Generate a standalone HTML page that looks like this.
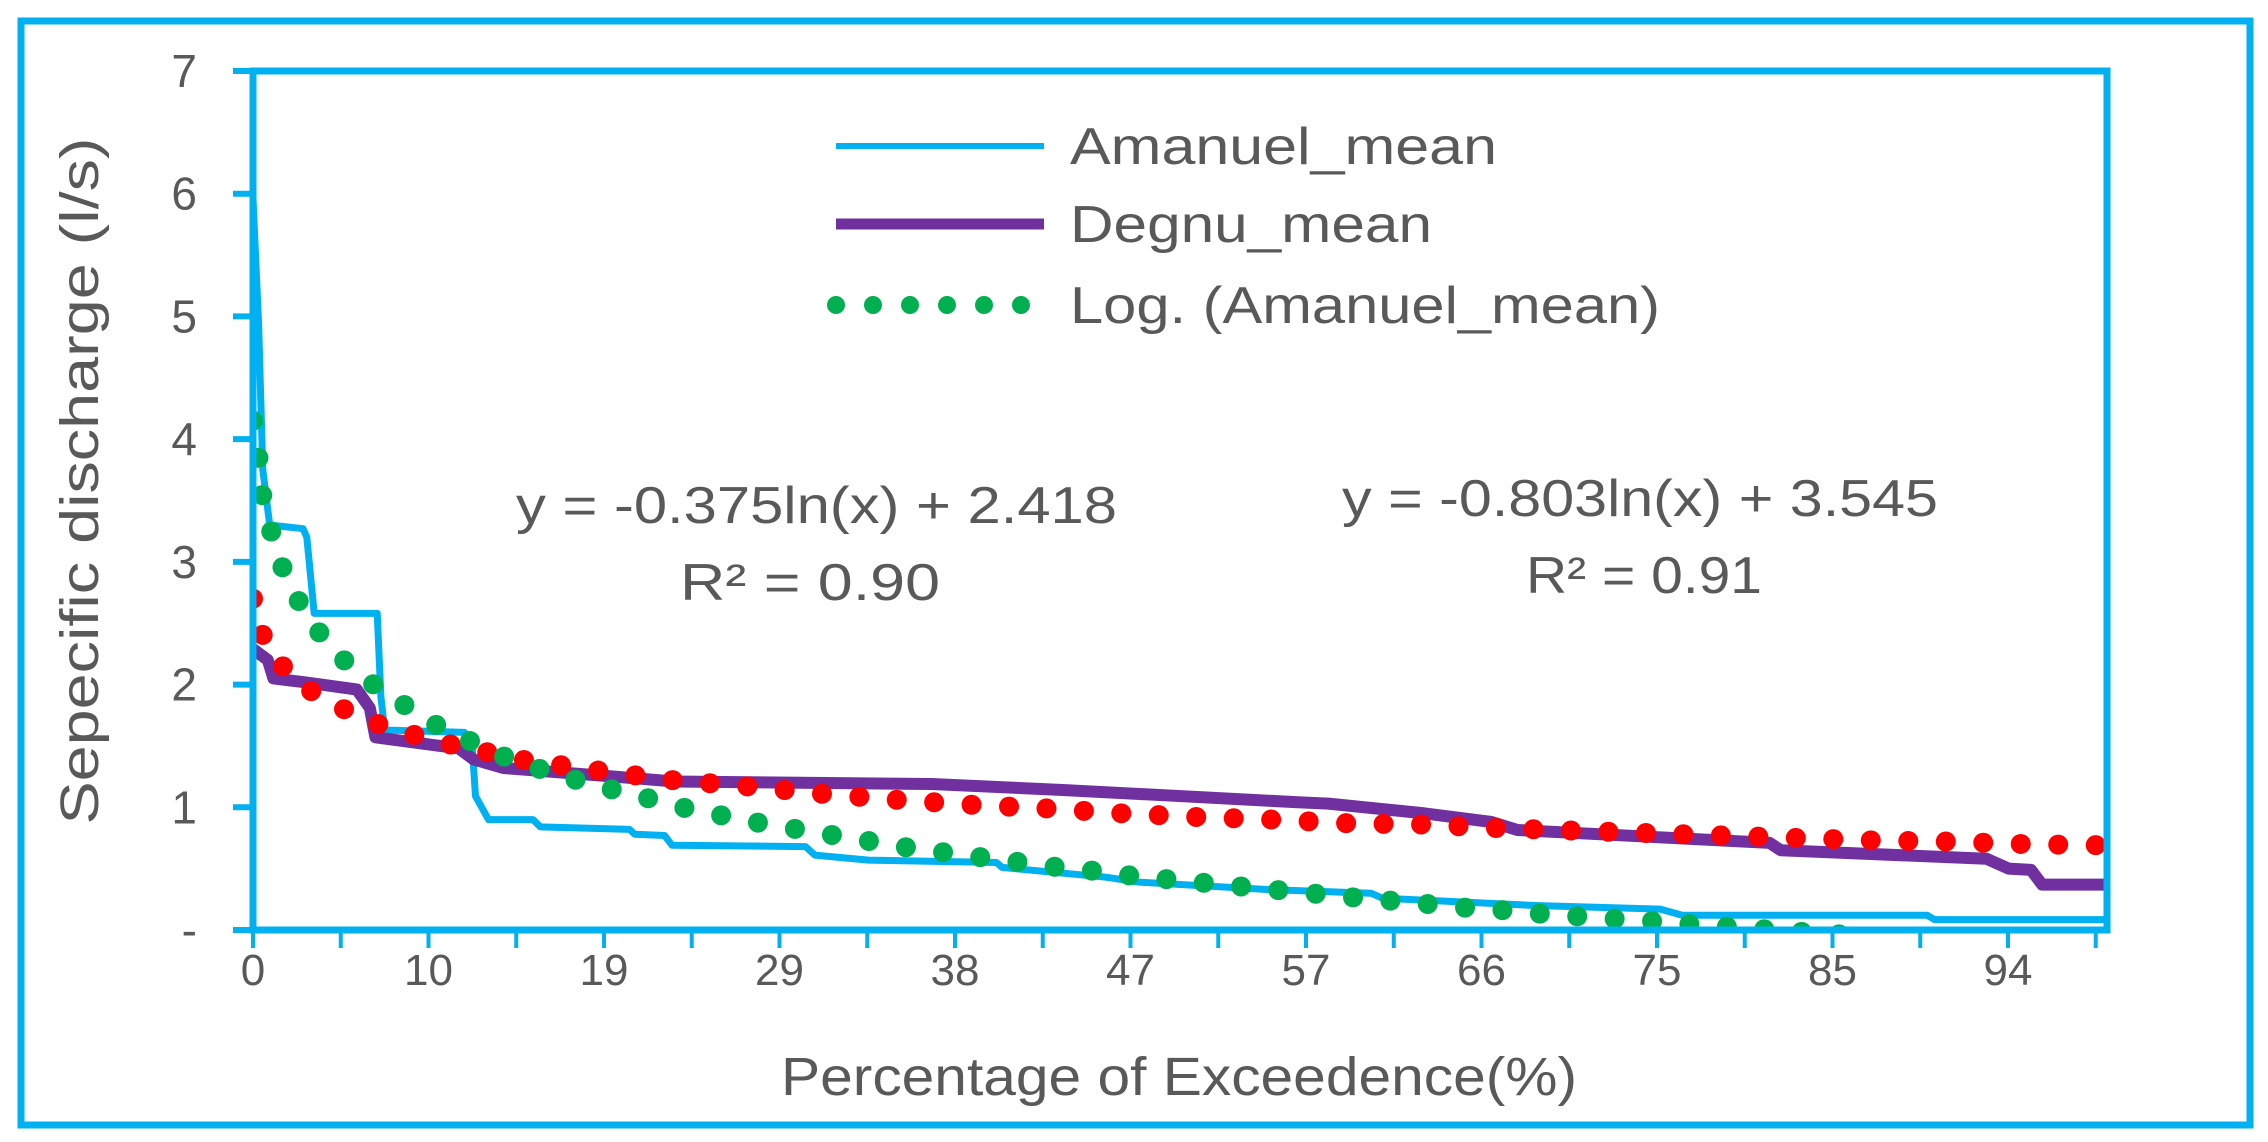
<!DOCTYPE html>
<html><head><meta charset="utf-8"><style>
html,body{margin:0;padding:0;background:#fff}
svg{display:block;font-family:"Liberation Sans",sans-serif}
</style></head><body>
<svg id="chart" width="2268" height="1142" viewBox="0 0 2268 1142">
<defs><clipPath id="pc"><rect x="253" y="71" width="1854" height="859"/></clipPath></defs>
<rect x="21" y="21" width="2229" height="1104" fill="#fff" stroke="#00B0F0" stroke-width="7"/>
<g id="axes"></g>
<g id="series" clip-path="url(#pc)"></g>
<g id="frame"></g>
<g>
 <line x1="836" y1="146" x2="1044" y2="146" stroke="#00B0F0" stroke-width="6"/>
 <text x="1070" y="164" font-size="52" fill="#595959" textLength="427" lengthAdjust="spacingAndGlyphs">Amanuel_mean</text>
 <line x1="836" y1="224" x2="1044" y2="224" stroke="#7030A0" stroke-width="11"/>
 <text x="1070" y="242" font-size="52" fill="#595959" textLength="362" lengthAdjust="spacingAndGlyphs">Degnu_mean</text>
 <line x1="836" y1="305" x2="1044" y2="305" stroke="#00B050" stroke-width="18" stroke-linecap="round" stroke-dasharray="0 37"/>
 <text x="1070" y="323" font-size="52" fill="#595959" textLength="590" lengthAdjust="spacingAndGlyphs">Log. (Amanuel_mean)</text>
</g>
<text x="516" y="523" font-size="52" fill="#595959" textLength="601" lengthAdjust="spacingAndGlyphs">y = -0.375ln(x) + 2.418</text>
<text x="680" y="600" font-size="52" fill="#595959" textLength="260" lengthAdjust="spacingAndGlyphs">R² = 0.90</text>
<text x="1342" y="516" font-size="52" fill="#595959" textLength="596" lengthAdjust="spacingAndGlyphs">y = -0.803ln(x) + 3.545</text>
<text x="1526" y="593" font-size="52" fill="#595959" textLength="236" lengthAdjust="spacingAndGlyphs">R² = 0.91</text>
<text x="1179" y="1095" font-size="54" fill="#595959" text-anchor="middle" textLength="796" lengthAdjust="spacingAndGlyphs">Percentage of Exceedence(%)</text>
<text transform="translate(98,481) rotate(-90)" font-size="54" fill="#595959" text-anchor="middle" textLength="687" lengthAdjust="spacingAndGlyphs">Sepecific discharge (l/s)</text>
</svg>
<script>
const yTicks = [0,1,2,3,4,5,6,7];
const yTickLabels = ['-','1','2','3','4','5','6','7'];
const xTickLabels = ['0','10','19','29','38','47','57','66','75','85','94'];
const amanuelX = [0,0.3,0.53,0.9,2.7,2.9,3.3,6.7,6.9,7.1,11.4,11.8,12.0,12.7,15.1,15.5,20.3,20.6,22.2,22.6,29.8,30.3,33.2,40.1,40.4,46,47.8,54.7,60.3,60.9,69.1,75.9,77.1,90.3,90.7,100];
const amanuelY = [5.96,4.94,3.75,3.3,3.27,3.2,2.58,2.58,1.9,1.63,1.61,1.54,1.09,0.9,0.9,0.84,0.82,0.78,0.77,0.69,0.68,0.61,0.57,0.55,0.51,0.43,0.39,0.33,0.30,0.26,0.20,0.17,0.12,0.12,0.085,0.085];
const degnuX = [0,0.8,1.1,2.7,5.6,6.3,6.6,11.1,11.9,13.5,19.5,22.7,36.6,43.8,56.5,58,63.2,66.8,68.2,81.8,82.4,93.5,94.7,95.9,96.5,100];
const degnuY = [2.29,2.2,2.05,2.02,1.96,1.81,1.57,1.48,1.39,1.32,1.25,1.21,1.19,1.14,1.04,1.03,0.95,0.88,0.815,0.71,0.65,0.58,0.5,0.49,0.37,0.37];
const trendAX = [0,0.3,0.5,1,1.6,2.5,3.6,4.9,6.5,8.2,9.9,11.7,13.6,15.5,17.5,19.5,21.4,23.4,25.4,27.4,29.4,31.4,33.4,35.4,37.4,39.4,41.5,43.5,45.5,47.5,49.6,51.6,53.6,55.6,57.7,59.7,61.7,63.5,65.5,67.6,69.6,71.6,73.6,75.7,77.7,79.7,85,100];
const trendAY = [4.15,3.84,3.54,3.24,2.95,2.67,2.42,2.2,2.0,1.83,1.67,1.54,1.41,1.31,1.22,1.14,1.07,0.99,0.93,0.87,0.82,0.77,0.72,0.67,0.63,0.59,0.55,0.51,0.48,0.44,0.41,0.38,0.35,0.32,0.29,0.26,0.235,0.21,0.18,0.16,0.13,0.11,0.09,0.07,0.045,0.025,-0.03,-0.17];
const trendDX = [0,0.5,1.6,3.1,4.9,6.7,8.7,10.7,12.6,14.6,18.6,22.7,26.7,30.7,34.8,38.8,42.9,46.9,51,55,59,63.1,67.1,71.2,75.3,79.3,83.4,87.4,91.5,95.6,100];
const trendDY = [2.7,2.41,2.15,1.95,1.8,1.68,1.59,1.51,1.45,1.385,1.3,1.22,1.17,1.11,1.06,1.02,0.99,0.95,0.92,0.9,0.87,0.86,0.83,0.81,0.79,0.77,0.75,0.73,0.72,0.7,0.69];

const L=253,R=2107,T=71,B=930, NS='http://www.w3.org/2000/svg';
const xS = v => L + v/100*(R-L);
const yS = v => B - v/7*(B-T);
const labelStep = 175.5/(R-L)*100;
function mk(tag, attrs, parent, text){const e=document.createElementNS(NS,tag);for(const k in attrs)e.setAttribute(k,attrs[k]);if(text!==undefined)e.textContent=text;parent.appendChild(e);return e;}
const axes=document.getElementById('axes'), series=document.getElementById('series'), frame=document.getElementById('frame');
yTicks.forEach((v,i)=>{
  const t=mk('line',{x1:233,x2:L,y1:yS(v),y2:yS(v),stroke:'#00B0F0','stroke-width':6},axes);
  
  
  const lb=mk('text',{x:197,y:yS(v)+16,'font-size':46,fill:'#595959','text-anchor':'end'},axes,yTickLabels[i]);
  
  
});
for(let k=0;k*labelStep/2<=100.5;k++){
  const x=xS(k*labelStep/2);
  const t=mk('line',{x1:x,x2:x,y1:B,y2:B+18,stroke:'#00B0F0','stroke-width':4},axes);
  
  
}
xTickLabels.forEach((s,i)=>{
  const lb=mk('text',{x:xS(i*labelStep),y:985,'font-size':44,fill:'#595959','text-anchor':'middle'},axes,s);
  
  
});
function pts(xs,ys){return xs.map((x,i)=>xS(x).toFixed(1)+','+yS(ys[i]).toFixed(1)).join(' ');}
const pa=mk('polyline',{points:pts(amanuelX,amanuelY),fill:'none',stroke:'#00B0F0','stroke-width':7,'stroke-linejoin':'round'},series);


const pd=mk('polyline',{points:pts(degnuX,degnuY),fill:'none',stroke:'#7030A0','stroke-width':12,'stroke-linejoin':'round','stroke-linecap':'round'},series);


const tr=mk('polyline',{points:pts(trendDX,trendDY),fill:'none',stroke:'#FF0000','stroke-width':20,'stroke-linecap':'round','stroke-dasharray':'0 37.5'},series);


const tg=mk('polyline',{points:pts(trendAX,trendAY),fill:'none',stroke:'#00B050','stroke-width':20,'stroke-linecap':'round','stroke-dasharray':'0 37.5'},series);


const fr=mk('path',{d:`M${L} ${T}H${R}V${B}H${L}Z`,fill:'none',stroke:'#00B0F0','stroke-width':7},frame);


</script>
</body></html>
